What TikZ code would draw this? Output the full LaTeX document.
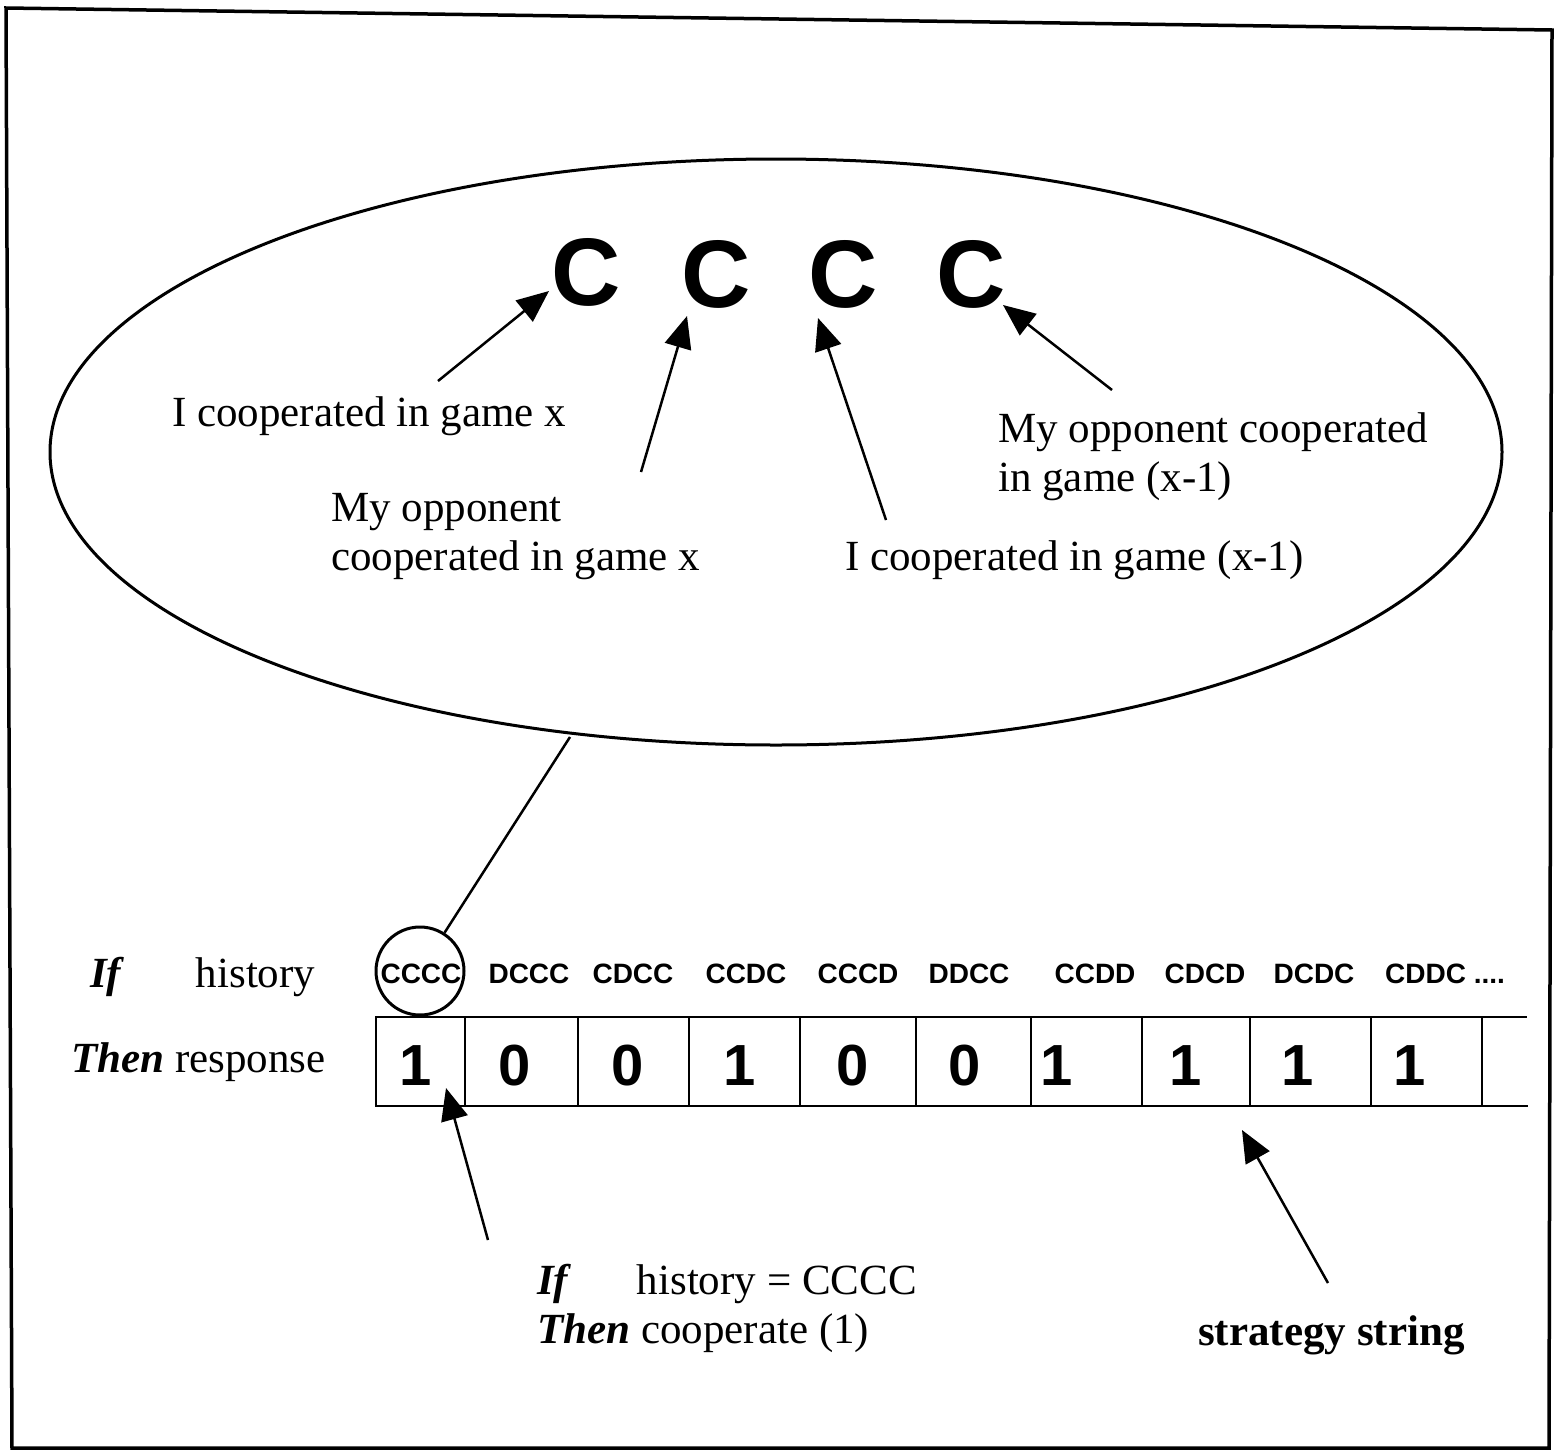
\documentclass[tikz,border=0pt]{standalone}
\usepackage{fontspec}
\setmainfont{Liberation Serif}
\newfontfamily\arialf{Liberation Sans}
\usetikzlibrary{shapes.geometric,arrows.meta}
\tikzset{
  lbl/.style={font=\fontsize{43}{49}\selectfont, inner sep=0pt, anchor=base west, align=left},
  bigC/.style={font=\arialf\bfseries\fontsize{96}{96}\selectfont, inner sep=0pt, anchor=base},
  hist/.style={font=\arialf\bfseries\fontsize{28}{28}\selectfont, inner sep=0pt, anchor=base},
  digit/.style={font=\arialf\bfseries\fontsize{58}{58}\selectfont, inner sep=0pt, anchor=base},
  arr/.style={line width=2.5pt, -{Triangle[length=32pt,width=27pt]}},
  thin/.style={line width=1.8pt},
}
\begin{document}
\begin{tikzpicture}[x=1pt,y=-1pt]
\useasboundingbox (0,0) rectangle (1566,1451);
% frame
\draw[line width=3.5pt, line join=miter] (6,8) -- (1552,30) -- (1549,1448) -- (12,1448) -- cycle;
% ellipse
\node[draw, ellipse, line width=3pt, minimum width=1452pt, minimum height=586pt, inner sep=0pt] (ell) at (776,452) {};
% big C's
\node[bigC] (c1) at (586,305) {C};
\node[bigC] (c2) at (716,307) {C};
\node[bigC] (c3) at (843,307) {C};
\node[bigC] (c4) at (971,307) {C};
% labels in ellipse (base = last line)
\node[lbl] (t1) at (172,426) {I cooperated in game x};
\node[lbl] (t2) at (331,570) {My opponent\\cooperated in game x};
\node[lbl] (t3) at (845,570) {I cooperated in game (x-1)};
\node[lbl] (t4) at (998,491) {My opponent cooperated\\in game (x-1)};
% arrow endpoints
\coordinate (a1s) at (438,381); \coordinate (a1e) at (549,291);
\coordinate (a2s) at (641,472); \coordinate (a2e) at (687,316);
\coordinate (a3s) at (886,520); \coordinate (a3e) at (818,318);
\coordinate (a4s) at (1112,390); \coordinate (a4e) at (1003,305);
\draw[arr] (a1s) -- (a1e);
\draw[arr] (a2s) -- (a2e);
\draw[arr] (a3s) -- (a3e);
\draw[arr] (a4s) -- (a4e);
% row labels
\node[lbl] (ifh) at (90,987) {\textbf{\textit{If}}\hspace{71pt}history};
\node[lbl] (thr) at (71,1072) {\textbf{\textit{Then}} response};
% history labels
\node[hist] (h1) at (421,983) {CCCC};
\node[hist] (h2) at (529,983) {DCCC};
\node[hist] (h3) at (633,983) {CDCC};
\node[hist] (h4) at (746,983) {CCDC};
\node[hist] (h5) at (858,983) {CCCD};
\node[hist] (h6) at (969,983) {DDCC};
\node[hist] (h7) at (1095,983) {CCDD};
\node[hist] (h8) at (1205,983) {CDCD};
\node[hist] (h9) at (1314,983) {DCDC};
\node[hist, anchor=base west] (h10) at (1385,983) {CDDC ....};
% circle and connector
\node[draw, circle, line width=3pt, minimum size=88pt, inner sep=0pt] (hc) at (420,971) {};
\coordinate (el) at (570,737);
\draw[line width=2.5pt] (el) -- (hc);
% strip of cells
\foreach \a/\b in {376/465,465/578,578/689,689/800,800/916,916/1031,1031/1142,1142/1250,1250/1371,1371/1482}{
  \draw[thin] (\a,1017) rectangle (\b,1106);
}
\coordinate (stt) at (1527,1017); \coordinate (stb) at (1528,1106);
\coordinate (sct) at (1482,1017); \coordinate (scb) at (1482,1106);
\draw[thin] (sct) -- (stt);
\draw[thin] (scb) -- (stb);
% digits
\node[digit] (d1) at (416,1085) {1};
\node[digit] (d2) at (515,1085) {0};
\node[digit] (d3) at (628,1085) {0};
\node[digit] (d4) at (740,1085) {1};
\node[digit] (d5) at (853,1085) {0};
\node[digit] (d6) at (965,1085) {0};
\node[digit] (d7) at (1057,1085) {1};
\node[digit] (d8) at (1186,1085) {1};
\node[digit] (d9) at (1298,1085) {1};
\node[digit] (d10) at (1410,1085) {1};
% bottom annotations
\node[lbl] (bt) at (537,1343) {\textbf{\textit{If}}\hspace{65pt}history = CCCC\\\textbf{\textit{Then}} cooperate (1)};
\node[lbl] (ss) at (1198,1345) {\textbf{strategy string}};
\coordinate (b1s) at (488,1240); \coordinate (b1e) at (446,1088);
\coordinate (b2s) at (1328,1283); \coordinate (b2e) at (1242,1130);
\draw[arr] (b1s) -- (b1e);
\draw[arr] (b2s) -- (b2e);
\end{tikzpicture}
\end{document}
